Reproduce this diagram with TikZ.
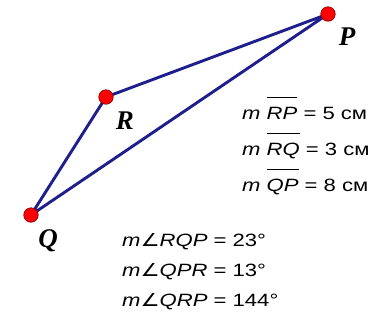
\documentclass[tikz,border=0pt]{standalone}
\usepackage{fontspec}
\setmainfont{Liberation Sans}
\newfontfamily\tfont[FakeStretch=1.24]{Liberation Sans}
\newfontfamily\angfont[FakeStretch=1.2]{DejaVu Sans}
\newfontfamily\lblfont{Liberation Serif}
\newcommand\olx[1]{\leavevmode\setbox0\hbox{#1}\rlap{\raisebox{21bp}{\rule{\wd0}{1.1bp}}}\box0}
\definecolor{edgeblue}{RGB}{30,30,140}
\definecolor{dotred}{RGB}{255,0,0}
\definecolor{dotrim}{RGB}{120,0,0}
\begin{document}
\begin{tikzpicture}[x=1bp,y=-1bp,
  edge/.style={draw=edgeblue,line width=2.9bp,line join=round},
  vdot/.style={circle,fill=dotred,draw=dotrim,line width=0.6bp,minimum size=14.5bp,inner sep=0pt},
  vlabel/.style={font=\lblfont\fontsize{27bp}{27bp}\selectfont\bfseries\itshape,inner sep=0pt},
  meas/.style={font=\tfont\fontsize{17.8bp}{20bp}\selectfont,anchor=base west,inner sep=0pt}]
\useasboundingbox (0,0) rectangle (376,321);
\coordinate (P) at (328,14);
\coordinate (R) at (106,97);
\coordinate (Q) at (31,215);
\draw[edge] (P) -- (R) -- (Q) -- cycle;
\node[vdot] (dP) at (P) {};
\node[vdot] (dR) at (R) {};
\node[vdot] (dQ) at (Q) {};
\node[vlabel] (lP) at (347,37) {P};
\node[vlabel] (lR) at (125,121) {R};
\node[vlabel] (lQ) at (48,241) {Q};
\node[meas] (m1) at (242,119) {\itshape m \olx{RP}\upshape{} = 5 см};
\node[meas] (m2) at (242,155) {\itshape m \olx{RQ}\upshape{} = 3 см};
\node[meas] (m3) at (242,191) {\itshape m \olx{QP}\upshape{} = 8 см};
\node[meas] (a1) at (122,246) {\itshape m{\angfont\fontsize{17.8bp}{20bp}\selectfont ∠}RQP\upshape{} = 23°};
\node[meas] (a2) at (122,276) {\itshape m{\angfont\fontsize{17.8bp}{20bp}\selectfont ∠}QPR\upshape{} = 13°};
\node[meas] (a3) at (122,306) {\itshape m{\angfont\fontsize{17.8bp}{20bp}\selectfont ∠}QRP\upshape{} = 144°};
\end{tikzpicture}
\end{document}
